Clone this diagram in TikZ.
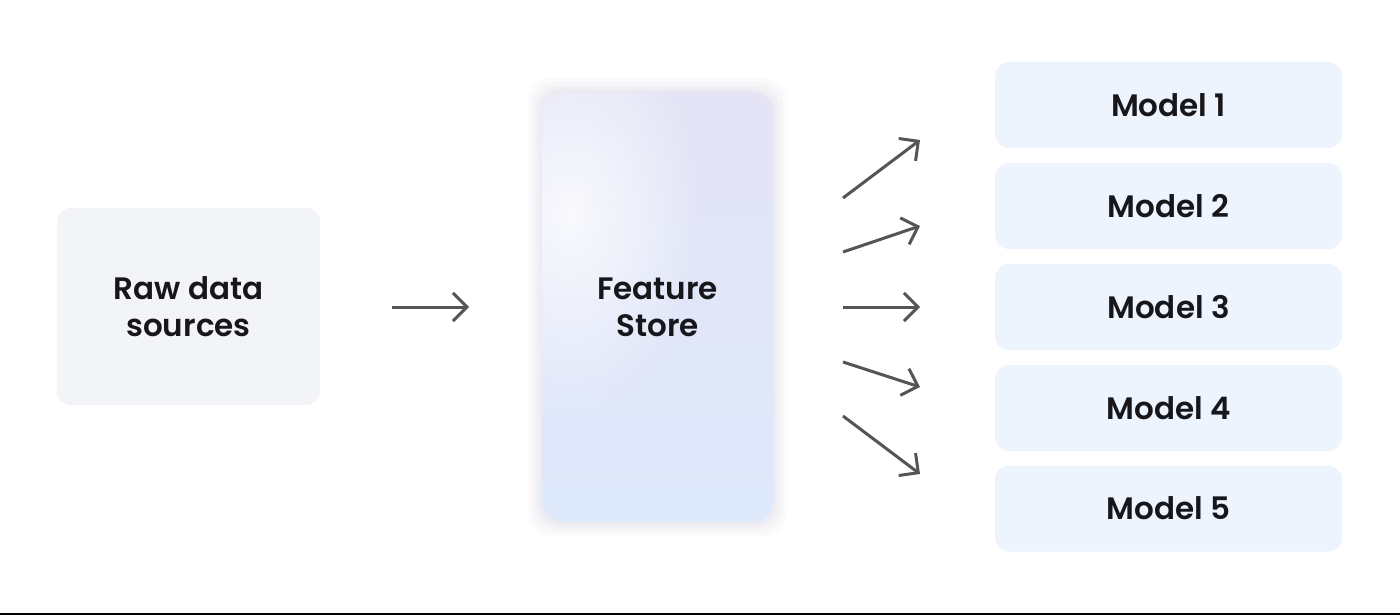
\documentclass[tikz,border=0pt]{standalone}
\usepackage{fontspec}
\setmainfont{Poppins}[UprightFont=* SemiBold]
\usetikzlibrary{arrows.meta,fadings}
\tikzfading[name=softspot, inner color=transparent!0, outer color=transparent!100]
\definecolor{inkc}{HTML}{17171B}
\definecolor{arrowc}{HTML}{555557}
\definecolor{rawfill}{HTML}{F3F4F7}
\definecolor{modelfill}{HTML}{EEF4FD}
\definecolor{fstop}{HTML}{E4E4F6}
\definecolor{fsbot}{HTML}{DEE9FB}
\definecolor{glowc}{HTML}{E6E6EE}
\tikzset{
  box/.style={rounded corners=14pt, inner sep=0pt, align=center,
    text=inkc, font=\fontsize{31}{37}\selectfont},
  rawbox/.style={box, fill=rawfill, minimum width=263pt, minimum height=197pt},
  modelbox/.style={box, fill=modelfill, minimum width=347pt, minimum height=86pt},
  flow/.style={draw=arrowc, line width=3pt,
    -{Straight Barb[length=14pt,width=28pt,line width=3pt]}}
}
\begin{document}
\begin{tikzpicture}[x=1pt,y=-1pt]
\useasboundingbox (0,0) rectangle (1400,615);
\fill[white] (0,0) rectangle (1400,615);
% baseline rule along the bottom edge
\fill[black] (0,612.5) rectangle (1400,615);

% raw data
\node[rawbox] (raw) at (188.5,306.5) {Raw data\\sources};

% feature store: soft glow, gradient body, highlight
\foreach \g/\o in {14/0.12,10/0.2,6/0.3,3/0.45}{
  \fill[glowc, opacity=\o, rounded corners=22pt]
    (542-\g,92-\g) rectangle (773+\g,522+\g);
}
\shade[rounded corners=20pt, top color=fstop, bottom color=fsbot]
  (542,92) rectangle (773,522);
\begin{scope}
  \clip[rounded corners=20pt] (542,92) rectangle (773,522);
  \fill[white, opacity=0.8, path fading=softspot] (570,215) ellipse (130pt and 200pt);
\end{scope}
\node[box, minimum width=231pt, minimum height=430pt] (fs) at (657.5,307) {Feature\\Store};

% models
\node[modelbox] (m1) at (1168.5,105) {Model 1};
\node[modelbox] (m2) at (1168.5,206) {Model 2};
\node[modelbox] (m3) at (1168.5,307) {Model 3};
\node[modelbox] (m4) at (1168.5,408) {Model 4};
\node[modelbox] (m5) at (1168.5,508.5) {Model 5};

% connector end points
\coordinate (a0s) at (392,307);  \coordinate (a0e) at (469,307);
\coordinate (a1s) at (843,198);  \coordinate (a1e) at (920,140);
\coordinate (a2s) at (843,252);  \coordinate (a2e) at (920,226);
\coordinate (a3s) at (843,307);  \coordinate (a3e) at (920,307);
\coordinate (a4s) at (843,362);  \coordinate (a4e) at (920,387);
\coordinate (a5s) at (843,416);  \coordinate (a5e) at (920,474);

\draw[flow] (a0s) -- (a0e);
\draw[flow] (a1s) -- (a1e);
\draw[flow] (a2s) -- (a2e);
\draw[flow] (a3s) -- (a3e);
\draw[flow] (a4s) -- (a4e);
\draw[flow] (a5s) -- (a5e);
\end{tikzpicture}
\end{document}
